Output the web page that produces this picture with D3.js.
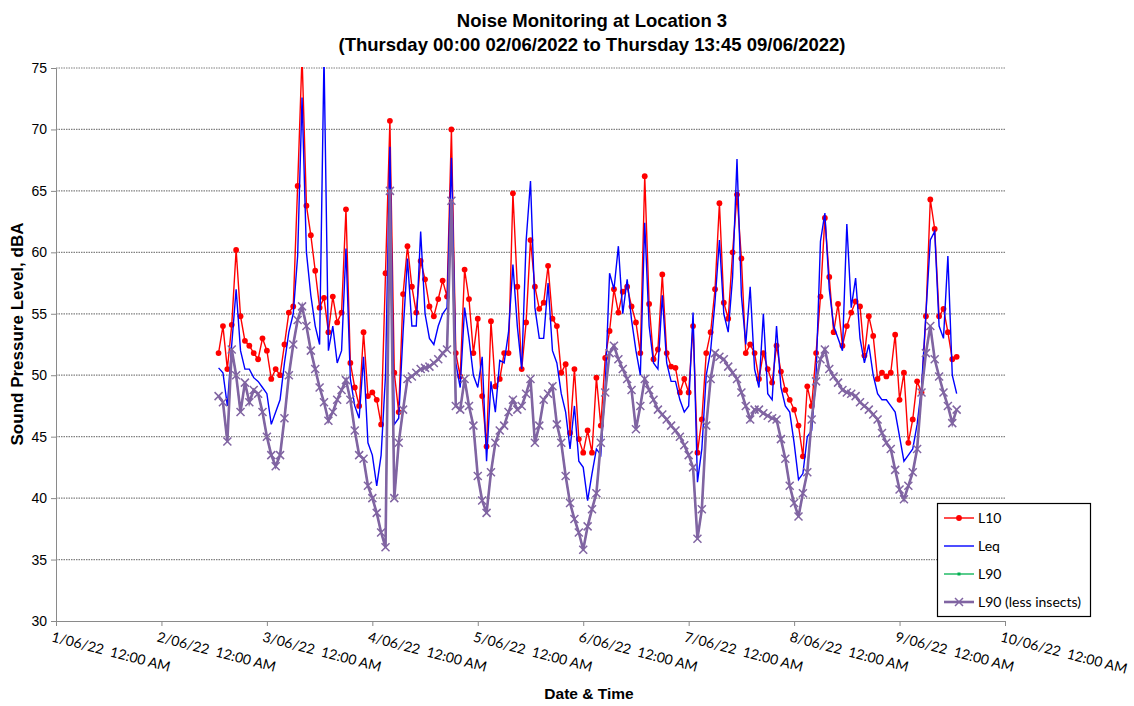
<!DOCTYPE html>
<html>
<head>
<meta charset="utf-8">
<script src="https://cdn.jsdelivr.net/npm/d3@7"></script>
<style>
  html, body { margin: 0; padding: 0; background: #fff; }
  svg { display: block; }
</style>
</head>
<body>
<svg id="chart" width="1134" height="706"></svg>
<script>
// ---- Data (hourly readings from 2/06/2022 13:00) ----
const startTime = new Date(2022, 5, 2, 13, 0);

const L10 = [
51.8,54.0,50.5,54.1,60.2,54.8,52.8,52.4,51.8,51.3,53.0,52.0,49.7,50.5,50.0,52.5,55.1,55.6,65.4,76,
63.8,61.4,58.5,55.5,56.3,53.5,56.4,54.3,55.1,63.5,51.0,49.0,47.5,53.5,48.3,48.6,48.0,46.0,58.3,70.7,
50.2,47.0,56.6,60.5,57.2,55.1,59.3,57.8,55.6,54.8,56.2,57.7,56.4,70.0,51.8,49.9,58.6,56.2,51.8,54.6,
48.3,44.2,54.4,49.1,49.7,51.8,51.8,64.8,57.2,50.5,54.3,61.0,57.2,55.4,55.9,58.9,54.6,54.0,50.2,50.9,
45.3,50.5,44.8,43.7,45.5,43.7,49.8,45.9,51.4,53.6,57.0,55.1,56.8,57.2,55.6,54.3,51.8,66.2,55.8,51.3,
52.1,58.2,51.8,50.7,50.6,48.6,49.7,48.6,54.0,43.7,46.4,51.8,53.5,57.0,64.0,55.9,54.6,60.0,64.7,59.5,
51.8,52.5,51.8,49.7,51.8,50.5,49.4,52.4,50.3,48.8,48.0,47.2,45.9,43.4,49.1,47.5,51.8,56.4,62.8,58.0,
53.5,55.8,52.4,54.0,55.1,56.0,55.6,51.6,54.8,53.2,49.7,50.2,49.9,50.2,53.3,48.0,50.2,44.5,46.4,49.5,
48.6,54.8,64.3,61.9,54.8,55.4,53.5,51.3,51.5
];

const Leq = [
50.6,50.2,47.5,52.5,57.0,52.0,50.5,50.5,49.8,49.5,49.0,48.5,46.0,47.0,48.0,51.0,53.5,55.0,59.7,72.6,
60.0,56.5,54.0,52.5,76,52.0,54.0,51.0,52.0,60.3,49.7,47.5,46.5,51.5,44.5,43.5,41.0,43.5,50.0,68.6,
46.0,46.5,53.5,59.5,54.0,54.0,61.7,55.0,53.0,52.5,54.0,55.0,55.5,67.7,51.0,49.0,55.5,53.0,50.0,49.0,
51.5,43.0,49.5,47.0,51.2,51.0,53.5,59.0,54.0,50.5,60.9,65.8,55.5,53.0,53.0,57.5,52.0,51.0,48.5,47.0,
44.0,47.5,43.0,42.5,39.8,42.0,44.0,43.5,49.0,58.3,57.0,60.5,55.0,57.8,54.5,52.0,50.0,62.4,54.0,51.0,
50.5,56.5,51.0,49.5,49.5,48.0,47.0,47.5,55.1,41.3,44.0,50.0,52.0,56.0,61.0,55.0,53.5,58.0,67.6,56.5,
52.5,57.2,50.5,49.0,55.0,48.5,48.0,54.0,49.0,47.5,47.0,44.5,41.5,42.0,45.0,45.5,50.0,60.9,63.2,57.0,
54.0,53.0,52.0,62.3,55.5,57.9,53.0,51.0,52.5,50.0,48.5,48.0,48.0,47.5,47.0,45.0,43.0,43.5,44.0,46.0,
49.0,55.0,61.0,61.7,54.0,53.0,59.7,50.0,48.5
];

const L90LessInsects = [
48.3,47.8,44.6,52.1,50.0,47.0,49.4,47.8,48.8,48.5,47.0,45.0,43.5,42.6,43.5,46.5,50.0,52.5,54.5,55.6,
54.0,52.0,50.5,49.0,47.8,46.3,47.0,48.0,48.8,49.6,48.0,45.5,43.5,43.2,41.0,40.0,38.8,37.2,36.0,65.0,
40.0,44.5,47.2,49.7,49.9,50.2,50.5,50.6,50.7,51.0,51.3,51.8,52.1,64.2,47.5,47.2,49.7,47.5,45.9,41.8,
39.8,38.8,42.1,44.5,45.5,45.9,47.0,48.0,47.2,47.5,48.5,49.7,44.5,45.9,48.0,48.5,49.1,46.0,44.5,41.8,
39.6,38.3,37.2,35.8,37.7,39.1,40.4,44.5,48.6,51.8,52.4,51.3,50.5,49.7,48.8,45.6,47.5,49.7,48.8,48.0,
47.2,46.8,46.4,45.9,45.5,45.0,44.3,43.5,42.5,36.7,39.1,45.9,49.7,51.8,51.5,51.3,50.7,50.2,49.7,48.6,
47.5,46.4,47.2,47.2,46.9,46.7,46.5,46.4,44.8,43.2,41.0,39.6,38.5,40.4,42.1,46.4,49.5,51.3,52.1,50.5,
49.9,49.4,48.8,48.6,48.5,48.3,47.8,47.5,47.2,46.8,46.4,45.3,44.5,44.0,42.3,40.7,39.9,41.0,42.1,44.0,
48.6,51.8,54.0,51.3,49.9,48.6,47.5,46.1,47.2
];

// L90 lies underneath "L90 (less insects)" everywhere in the picture
const L90 = L90LessInsects.slice();

const yTicks = [30, 35, 40, 45, 50, 55, 60, 65, 70, 75];
const xTickDates = [1,2,3,4,5,6,7,8,9,10].map(d => new Date(2022, 5, d));
const xTickLabels = ["1/06/22  12:00 AM","2/06/22  12:00 AM","3/06/22  12:00 AM","4/06/22  12:00 AM",
  "5/06/22  12:00 AM","6/06/22  12:00 AM","7/06/22  12:00 AM","8/06/22  12:00 AM","9/06/22  12:00 AM",
  "10/06/22  12:00 AM"];
const seriesNames = ["L10", "Leq", "L90", "L90 (less insects)"];

(function draw() {
  const svg = d3.select("#chart");
  const pLeft = 56, pRight = 1005, pTop = 68, pBottom = 621;

  const x = d3.scaleTime()
    .domain([new Date(2022, 5, 1), new Date(2022, 5, 10)])
    .range([pLeft, pRight]);
  const y = d3.scaleLinear().domain([30, 75]).range([pBottom, pTop]);

  const times = L10.map((_, i) => d3.timeHour.offset(startTime, i));

  // Title
  const title = svg.append("text")
    .attr("text-anchor", "middle")
    .style("font-family", "'Liberation Sans', Arial, sans-serif")
    .style("font-weight", "bold").style("font-size", "18.5px");
  title.append("tspan").attr("x", 592).attr("y", 27).text("Noise Monitoring at Location 3");
  title.append("tspan").attr("x", 592).attr("y", 51).text("(Thursday 00:00 02/06/2022 to Thursday 13:45 09/06/2022)");

  // Gridlines
  svg.append("g").selectAll("line")
    .data(yTicks.filter(v => v > 30))
    .join("line")
    .attr("x1", pLeft).attr("x2", pRight)
    .attr("y1", d => y(d)).attr("y2", d => y(d))
    .attr("stroke", "#808080").attr("stroke-width", 1.2)
    .attr("stroke-dasharray", "1.5,1");

  // Y axis
  const yAxis = d3.axisLeft(y).tickValues(yTicks).tickSize(5).tickFormat(d3.format("d"));
  const gy = svg.append("g").attr("transform", `translate(${pLeft},0)`).call(yAxis);
  gy.select(".domain").attr("stroke", "#8a8a8a");
  gy.selectAll(".tick line").attr("stroke", "#8a8a8a");
  gy.selectAll(".tick text")
    .style("font-family", "'Liberation Sans', Arial, sans-serif")
    .style("font-size", "14px").attr("fill", "#000").attr("x", -9);

  // X axis
  const xAxis = d3.axisBottom(x).tickValues(xTickDates).tickSize(5).tickFormat("");
  const gx = svg.append("g").attr("transform", `translate(0,${pBottom})`).call(xAxis);
  gx.select(".domain").attr("stroke", "#8a8a8a");
  gx.selectAll(".tick line").attr("stroke", "#8a8a8a");

  svg.append("g").selectAll("text")
    .data(xTickDates)
    .join("text")
    .attr("transform", d => `translate(${x(d) - 2},${pBottom + 8}) rotate(14.5)`)
    .attr("dy", "0.9em")
    .style("font-family", "Lato, 'Open Sans', sans-serif")
    .style("font-size", "14px")
    .style("white-space", "pre")
    .text((d, i) => xTickLabels[i]);

  // Axis titles
  svg.append("text")
    .attr("x", 589).attr("y", 699)
    .attr("text-anchor", "middle")
    .style("font-family", "'Liberation Sans', Arial, sans-serif")
    .style("font-weight", "bold").style("font-size", "15.5px")
    .text("Date & Time");
  svg.append("text")
    .attr("transform", "translate(23,334) rotate(-90)")
    .attr("text-anchor", "middle")
    .style("font-family", "'Liberation Sans', Arial, sans-serif")
    .style("font-weight", "bold").style("font-size", "17px")
    .text("Sound Pressure Level, dBA");

  // Clip
  svg.append("clipPath").attr("id", "plotclip")
    .append("rect").attr("x", pLeft).attr("y", pTop - 1).attr("width", pRight - pLeft).attr("height", pBottom - pTop + 1);

  const plot = svg.append("g").attr("clip-path", "url(#plotclip)");
  const line = vals => d3.line().x((d, i) => x(times[i])).y(d => y(d))(vals);

  const colL10 = "#ff0000", colLeq = "#0000ff", colL90 = "#00b050", colL90L = "#8064a2";
  const xPath = "M-4,-4L4,4M-4,4L4,-4";

  plot.append("path").attr("d", line(L10)).attr("fill", "none")
    .attr("stroke", colL10).attr("stroke-width", 1.4);
  plot.append("g").selectAll("circle").data(L10).join("circle")
    .attr("cx", (d, i) => x(times[i])).attr("cy", d => y(d)).attr("r", 2.9)
    .attr("fill", colL10);

  plot.append("path").attr("d", line(Leq)).attr("fill", "none")
    .attr("stroke", colLeq).attr("stroke-width", 1.4);

  plot.append("path").attr("d", line(L90)).attr("fill", "none")
    .attr("stroke", colL90).attr("stroke-width", 1.3);

  plot.append("path").attr("d", line(L90LessInsects)).attr("fill", "none")
    .attr("stroke", colL90L).attr("stroke-width", 2.6);
  plot.append("g").selectAll("path").data(L90LessInsects).join("path")
    .attr("transform", (d, i) => `translate(${x(times[i])},${y(d)})`)
    .attr("d", xPath).attr("stroke", colL90L).attr("stroke-width", 1.5).attr("fill", "none");

  // Legend
  const lg = svg.append("g");
  lg.append("rect").attr("x", 937.5).attr("y", 503.5).attr("width", 153).attr("height", 113)
    .attr("fill", "#fff").attr("stroke", "#000").attr("stroke-width", 1.2);
  const legendRows = [
    {name: seriesNames[0], color: colL10, marker: "circle", w: 1.4},
    {name: seriesNames[1], color: colLeq, marker: null, w: 1.4},
    {name: seriesNames[2], color: colL90, marker: "small", w: 1.3},
    {name: seriesNames[3], color: colL90L, marker: "x", w: 2.6}
  ];
  const rowY = [518, 546, 574, 602];
  legendRows.forEach((r, i) => {
    const g = lg.append("g").attr("transform", `translate(0,${rowY[i]})`);
    g.append("line").attr("x1", 944).attr("x2", 974).attr("y1", 0).attr("y2", 0)
      .attr("stroke", r.color).attr("stroke-width", r.w);
    if (r.marker === "circle") g.append("circle").attr("cx", 959).attr("cy", 0).attr("r", 2.9).attr("fill", r.color);
    if (r.marker === "small") g.append("rect").attr("x", 957.5).attr("y", -1.5).attr("width", 3).attr("height", 3).attr("fill", r.color);
    if (r.marker === "x") g.append("path").attr("transform", "translate(959,0)").attr("d", xPath)
      .attr("stroke", r.color).attr("stroke-width", 1.5);
    g.append("text").attr("x", 978).attr("y", 0).attr("dy", "0.35em")
      .style("font-family", "Lato, 'Open Sans', sans-serif").style("font-size", "14px")
      .text(r.name);
  });
})();
</script>
</body>
</html>
